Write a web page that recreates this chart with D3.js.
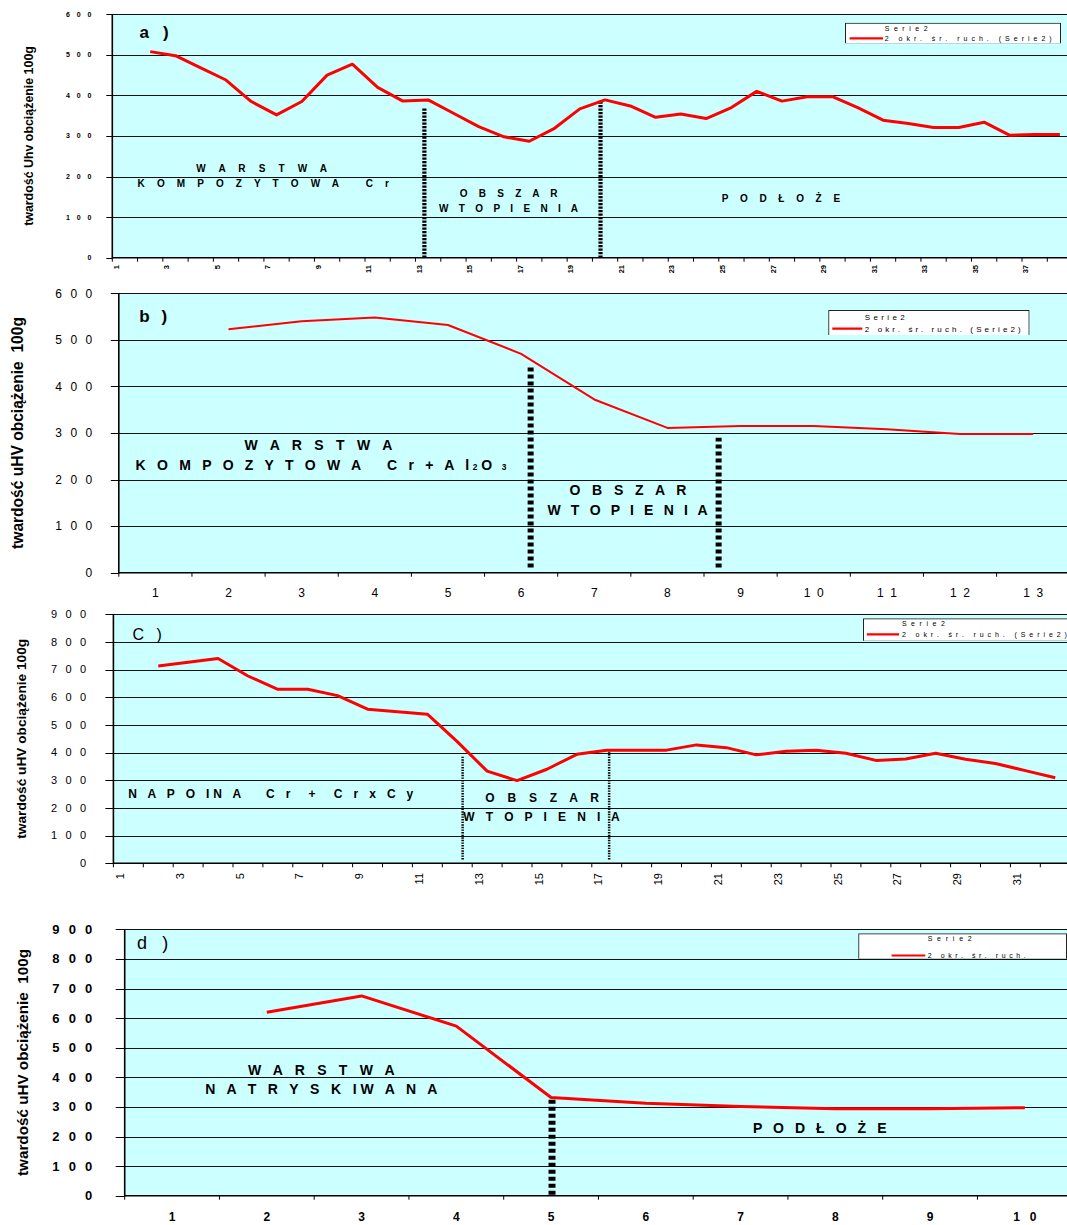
<!DOCTYPE html>
<html>
<head>
<meta charset="utf-8">
<script src="https://cdn.jsdelivr.net/npm/d3@7/dist/d3.min.js"></script>
<style>
  body { margin: 0; background: #fff; }
  svg { display: block; font-family: "Liberation Sans", Arial, sans-serif; }
  svg text { white-space: pre; }
</style>
</head>
<body>
<div id="chart"></div>
<script>
// hardness profiles, 2-period moving average ("2 okr. śr. ruch. (Serie2)")
var catsA = [1,2,3,4,5,6,7,8,9,10,11,12,13,14,15,16,17,18,19,20,21,22,23,24,25,26,27,28,29,30,31,32,33,34,35,36,37,38];
var trendA = [null,508,498,468,438,385,352,385,450,477,420,386,389,356,323,298,287,319,367,389,374,346,354,343,370,410,386,397,397,370,339,331,321,321,334,302,304,304];
var xLabelsA = [1,3,5,7,9,11,13,15,17,19,21,23,25,27,29,31,33,35,37];

var catsB = [1,2,3,4,5,6,7,8,9,10,11,12,13];
var trendB = [null,523,540,548,532,470,372,311,315,315,308,298,298];
var xLabelsB = [1,2,3,4,5,6,7,8,9,10,11,12,13];

var catsC = [1,2,3,4,5,6,7,8,9,10,11,12,13,14,15,16,17,18,19,20,21,22,23,24,25,26,27,28,29,30,31,32];
var trendC = [null,713,727,740,677,629,629,606,557,548,539,440,333,299,340,394,409,409,409,428,418,392,405,409,398,372,377,398,376,361,335,309];
var xLabelsC = [1,3,5,7,9,11,13,15,17,19,21,23,25,27,29,31];

var catsD = [1,2,3,4,5,6,7,8,9,10];
var trendD = [null,620,675,573,332,312,301,294,294,297];
var xLabelsD = [1,2,3,4,5,6,7,8,9,10];

var yTicks600 = [0,100,200,300,400,500,600];
var yTicks900 = [0,100,200,300,400,500,600,700,800,900];

// zone boundaries (x in category units from the axis origin, y in HV)
var dividersA = [{x: 12.35, top: 368, bot: 0}, {x: 19.32, top: 389, bot: 0}];
var dividersB = [{x: 5.63, top: 442, bot: 11}, {x: 8.20, top: 290, bot: 11}];
var dividersC = [{x: 11.68, top: 388, bot: 14}, {x: 16.58, top: 403, bot: 14}];
var dividersD = [{x: 4.51, top: 329, bot: 3}];

// texts inside the plots
var notesA = [
  {t: "a )", kind: "tag", x1: 1.08, x2: 2.23, v: 556},
  {t: "W A R S T W A", kind: "zone", x1: 3.32, x2: 8.50, v: 219},
  {t: "K O M P O Z Y T O W A   C r", kind: "zone", x1: 1.00, x2: 10.95, v: 182},
  {t: "O B S Z A R", kind: "zone", x1: 13.75, x2: 17.62, v: 158},
  {t: "W T O P I E N I A", kind: "zone", x1: 12.93, x2: 18.43, v: 122},
  {t: "P O D Ł O Ż E", kind: "zone", x1: 24.12, x2: 28.80, v: 145}
];
var notesB = [
  {t: "b )", kind: "tag", x1: 0.28, x2: 0.66, v: 552},
  {t: "W A R S T W A", kind: "zone", x1: 1.72, x2: 3.74, v: 274},
  {t: ["K O M P O Z Y T O W A   C r + A l", "2", "O", " 3"], kind: "zone", x1: 0.23, x2: 5.30, v: 231},
  {t: "O B S Z A R", kind: "zone", x1: 6.16, x2: 7.76, v: 178},
  {t: "W T O P I E N I A", kind: "zone", x1: 5.86, x2: 8.05, v: 135}
];
var notesC = [
  {t: "C )", kind: "tag", x1: 0.64, x2: 1.62, v: 828},
  {t: "N A P O IN A   C r  +  C r x C y", kind: "zone", x1: 0.50, x2: 10.03, v: 250},
  {t: "O B S Z A R", kind: "zone", x1: 12.44, x2: 16.24, v: 235},
  {t: "W T O P I E N I A", kind: "zone", x1: 11.70, x2: 16.93, v: 169}
];
var notesD = [
  {t: "d )", kind: "tag", x1: 0.13, x2: 0.46, v: 854},
  {t: "W A R S T W A", kind: "zone", x1: 1.30, x2: 2.85, v: 424},
  {t: "N A T R Y S K IW A N A", kind: "zone", x1: 0.85, x2: 3.30, v: 360},
  {t: "P O D Ł O Ż E", kind: "zone", x1: 6.63, x2: 8.04, v: 229}
];

var legendNames = ["Serie2", "2 okr. śr. ruch. (Serie2)"];

var W = 1067, H = 1225;

var panels = [
  {cats: catsA, trend: trendA, xLabels: xLabelsA, yTicks: yTicks600, dividers: dividersA, notes: notesA,
   left: 112.3, top: 14.3, bottom: 257.7, step: 25.27,
   title: "twardość Uhv obciążenie 100g", titleX: 28.2, titleLen: 180,
   lineW: 3, yFont: 7, yBold: true, yLabW: 25.3, yLabGap: 21, yTickLen: 6,
   xRot: true, xFont: 7.5, xBold: true, xLabOff: 3.6, xLabDy: 7.3,
   divW: 4.2, divDash: "2.2,1.3", zoneFont: 10, tagFont: 17, tagBold: true,
   legend: {x: 845, y: 22.7, w: 215, h: 20.6, fs: 7, t1x: 884.7, t1y: 28.7, t1w: 43,
            t2y: 38.3, t2w: 167, lx1: 849.6, lx2: 883, names: legendNames}},
  {cats: catsB, trend: trendB, xLabels: xLabelsB, yTicks: yTicks600, dividers: dividersB, notes: notesB,
   left: 118.8, top: 293.3, bottom: 572.7, step: 73.15,
   title: "twardość uHV obciążenie  100g", titleX: 17.2, titleLen: 232,
   lineW: 2, yFont: 12, yBold: false, yLabW: 37, yLabGap: 26.5, yTickLen: 8,
   xRot: false, xFont: 12, xBold: false, x2W: 20, xLabDy: 19.6,
   divW: 6, divDash: "4,3", zoneFont: 14, tagFont: 17, tagBold: true,
   legend: {x: 828.2, y: 310, w: 200.4, h: 25, fs: 8, t1x: 864.7, t1y: 317, t1w: 40,
            t2y: 328.7, t2w: 156, lx1: 832.3, lx2: 862.3, names: legendNames}},
  {cats: catsC, trend: trendC, xLabels: xLabelsC, yTicks: yTicks900, dividers: dividersC, notes: notesC,
   left: 113.4, top: 614.3, bottom: 863.3, step: 29.9,
   title: "twardość uHV obciążenie 100g", titleX: 21.3, titleLen: 200,
   lineW: 3, yFont: 11, yBold: false, yLabW: 35, yLabGap: 27.4, yTickLen: 8,
   xRot: true, xFont: 11, xBold: false, xLabOff: 6.7, xLabDy: 9.7,
   divW: 2.5, divDash: "1.4,1.2", zoneFont: 12, tagFont: 16, tagBold: false,
   legend: {x: 863, y: 618.3, w: 215, h: 22.4, fs: 7, t1x: 901.9, t1y: 624, t1w: 43,
            t2y: 634.3, t2w: 165, lx1: 866.8, lx2: 899.1, names: legendNames}},
  {cats: catsD, trend: trendD, xLabels: xLabelsD, yTicks: yTicks900, dividers: dividersD, notes: notesD,
   left: 124.7, top: 929.3, bottom: 1195.7, step: 94.75,
   title: "twardość uHV obciążenie  100g", titleX: 22.4, titleLen: 227,
   lineW: 3, yFont: 13, yBold: true, yLabW: 40, yLabGap: 32.4, yTickLen: 9,
   xRot: false, xFont: 12, xBold: true, x2W: 23, xLabDy: 21.5,
   divW: 7, divDash: "4,3", zoneFont: 14, tagFont: 18, tagBold: false,
   legend: {x: 858.2, y: 933.3, w: 207.8, h: 25.4, fs: 7, t1x: 927.7, t1y: 939, t1w: 44,
            t2y: 955.5, t2w: 98, lx1: 891.6, lx2: 925.3, names: ["Serie2", "2 okr. śr. ruch."]}}
];

var svg = d3.select("#chart").append("svg")
    .attr("width", W)
    .attr("height", H)
    .attr("viewBox", "0 0 " + W + " " + H);

function spaced(v) { return String(v).split("").join(" "); }

function fitText(sel, target) {
    var len = sel.node().getComputedTextLength();
    var fs = parseFloat(sel.attr("font-size"));
    if (len > 0) sel.attr("font-size", fs * target / len);
}

panels.forEach(function (p, pi) {
    var n = p.cats.length;
    var right = p.left + n * p.step;
    var yMax = p.yTicks[p.yTicks.length - 1];

    // category axis: band per category, linear helper for positions between ticks
    var x = d3.scaleBand().domain(p.cats).range([p.left, right]);
    var xu = d3.scaleLinear().domain([0, n]).range([p.left, right]);
    var y = d3.scaleLinear().domain([0, yMax]).range([p.bottom, p.top]);

    var g = svg.append("g").attr("class", "panel");

    g.append("rect")
        .attr("x", p.left).attr("y", p.top)
        .attr("width", right - p.left).attr("height", p.bottom - p.top)
        .attr("fill", "#ccffff");

    // gridlines
    g.append("g").selectAll("line")
        .data(p.yTicks.filter(function (d) { return d > 0; }))
        .enter().append("line")
        .attr("x1", p.left).attr("x2", right)
        .attr("y1", function (d) { return Math.round(y(d)) + 0.5; })
        .attr("y2", function (d) { return Math.round(y(d)) + 0.5; })
        .attr("stroke", "#111").attr("stroke-width", 1);

    // y axis
    var yAx = g.append("g");
    yAx.selectAll("line.tk").data(p.yTicks).enter().append("line")
        .attr("x1", p.left - p.yTickLen).attr("x2", p.left)
        .attr("y1", function (d) { return Math.round(y(d)) + 0.5; })
        .attr("y2", function (d) { return Math.round(y(d)) + 0.5; })
        .attr("stroke", "#000").attr("stroke-width", 1);
    yAx.selectAll("text").data(p.yTicks).enter().append("text")
        .attr("x", p.left - p.yLabGap)
        .attr("y", function (d) { return y(d); })
        .attr("dy", "0.35em")
        .attr("text-anchor", "end")
        .attr("font-size", p.yFont)
        .attr("font-weight", p.yBold ? "bold" : "normal")
        .attr("fill", "#000")
        .each(function (d) {
            var t = d3.select(this).text(spaced(d));
            if (String(d).length > 1) t.attr("textLength", p.yLabW * (String(d).length === 3 ? 1 : 0.6)).attr("lengthAdjust", "spacing");
        });

    // x axis ticks
    var xAx = g.append("g");
    xAx.selectAll("line").data(d3.range(n + 1)).enter().append("line")
        .attr("x1", function (k) { return xu(k); })
        .attr("x2", function (k) { return xu(k); })
        .attr("y1", p.bottom).attr("y2", p.bottom + 4)
        .attr("stroke", "#000").attr("stroke-width", 1);

    if (p.xRot) {
        xAx.selectAll("text").data(p.xLabels).enter().append("text")
            .attr("transform", function (d) {
                return "translate(" + (xu(p.cats.indexOf(d)) + p.xLabOff) + "," + (p.bottom + p.xLabDy) + ") rotate(-90)";
            })
            .attr("dy", "0.35em")
            .attr("text-anchor", "end")
            .attr("font-size", p.xFont)
            .attr("font-weight", p.xBold ? "bold" : "normal")
            .text(function (d) { return d; });
    } else {
        xAx.selectAll("text").data(p.xLabels).enter().append("text")
            .attr("x", function (d) { return x(d) + x.bandwidth() / 2; })
            .attr("y", p.bottom + p.xLabDy)
            .attr("dy", "0.35em")
            .attr("text-anchor", "middle")
            .attr("font-size", p.xFont)
            .attr("font-weight", p.xBold ? "bold" : "normal")
            .each(function (d) {
                var t = d3.select(this).text(spaced(d));
                if (String(d).length > 1) t.attr("textLength", p.x2W).attr("lengthAdjust", "spacing");
            });
    }

    // axis lines
    g.append("line").attr("x1", p.left).attr("x2", right)
        .attr("y1", p.bottom).attr("y2", p.bottom)
        .attr("stroke", "#000").attr("stroke-width", 1.6);
    g.append("line").attr("x1", p.left).attr("x2", p.left)
        .attr("y1", p.top).attr("y2", p.bottom + 0.8)
        .attr("stroke", "#000").attr("stroke-width", 1.6);

    // zone boundaries
    g.append("g").selectAll("line").data(p.dividers).enter().append("line")
        .attr("x1", function (d) { return xu(d.x); })
        .attr("x2", function (d) { return xu(d.x); })
        .attr("y1", function (d) { return y(d.bot); })
        .attr("y2", function (d) { return y(d.top); })
        .attr("stroke", "#000")
        .attr("stroke-width", p.divW)
        .attr("stroke-dasharray", p.divDash);

    // moving average line
    var line = d3.line()
        .defined(function (d) { return d.v != null; })
        .x(function (d) { return x(d.c) + x.bandwidth() / 2; })
        .y(function (d) { return y(d.v); });
    g.append("path")
        .datum(p.cats.map(function (c, i) { return {c: c, v: p.trend[i]}; }))
        .attr("d", line)
        .attr("fill", "none")
        .attr("stroke", "#ff0000")
        .attr("stroke-width", p.lineW)
        .attr("stroke-linejoin", "round");

    // texts in plot
    p.notes.forEach(function (nt) {
        var isTag = nt.kind === "tag";
        var t = g.append("text")
            .attr("x", xu(nt.x1))
            .attr("y", y(nt.v))
            .attr("dy", "0.35em")
            .attr("xml:space", "preserve")
            .attr("font-size", isTag ? p.tagFont : p.zoneFont)
            .attr("font-weight", isTag ? (p.tagBold ? "bold" : "normal") : "bold")
            .attr("fill", "#000");
        if (Array.isArray(nt.t)) {
            nt.t.forEach(function (part, i) {
                t.append("tspan")
                    .attr("font-size", i % 2 === 1 ? p.zoneFont * 0.6 : p.zoneFont)
                    .text(part);
            });
        } else {
            t.text(nt.t);
        }
        t.attr("textLength", xu(nt.x2) - xu(nt.x1)).attr("lengthAdjust", "spacing");
    });

    // legend
    var L = p.legend;
    var clipId = "lg" + pi;
    svg.append("clipPath").attr("id", clipId).append("rect")
        .attr("x", L.x).attr("y", L.y).attr("width", L.w + 1).attr("height", L.h);
    var lg = g.append("g").attr("clip-path", "url(#" + clipId + ")");
    lg.append("rect")
        .attr("x", L.x + 0.5).attr("y", L.y + 0.5)
        .attr("width", L.w).attr("height", L.h)
        .attr("fill", "#fff").attr("stroke", "#222").attr("stroke-width", 1);
    lg.append("text")
        .attr("x", L.t1x).attr("y", L.t1y).attr("dy", "0.35em")
        .attr("font-size", L.fs)
        .attr("textLength", L.t1w).attr("lengthAdjust", "spacing")
        .text(L.names[0]);
    lg.append("line")
        .attr("x1", L.lx1).attr("x2", L.lx2)
        .attr("y1", L.t2y).attr("y2", L.t2y)
        .attr("stroke", "#ff0000").attr("stroke-width", 2.2);
    lg.append("text")
        .attr("x", L.t1x).attr("y", L.t2y).attr("dy", "0.35em")
        .attr("font-size", L.fs)
        .attr("textLength", L.t2w).attr("lengthAdjust", "spacing")
        .text(L.names[1]);

    // y axis title
    var tt = svg.append("text")
        .attr("transform", "translate(" + p.titleX + "," + ((p.top + p.bottom) / 2) + ") rotate(-90)")
        .attr("dy", "0.35em")
        .attr("text-anchor", "middle")
        .attr("font-size", 12)
        .attr("font-weight", "bold")
        .text(p.title);
    fitText(tt, p.titleLen);
});
</script>
</body>
</html>
